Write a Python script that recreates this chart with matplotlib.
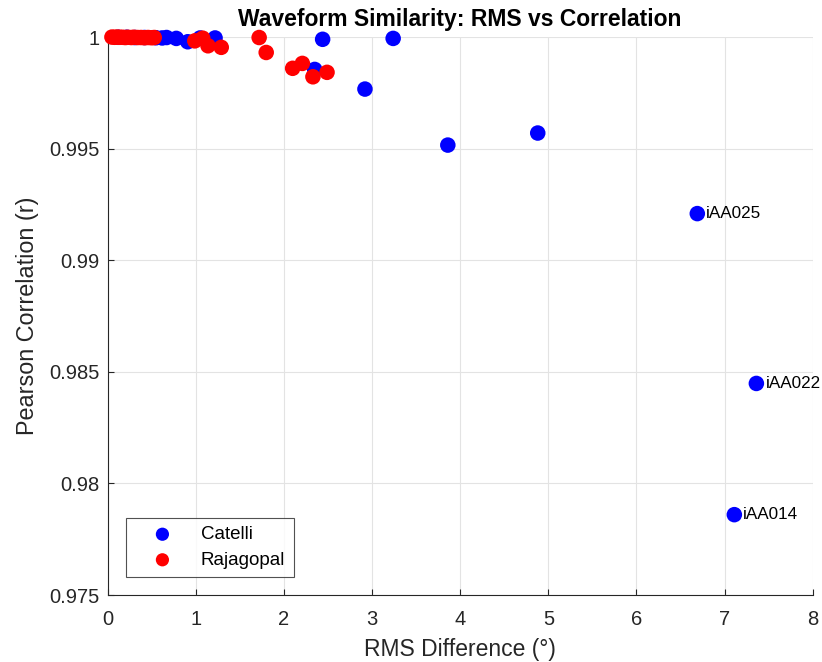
import matplotlib.pyplot as plt
from matplotlib.ticker import FuncFormatter

plt.rcParams['font.family'] = ['Liberation Sans', 'DejaVu Sans']

# Catelli model: RMS difference (deg) and Pearson r
catelli_rms = [0.12, 0.22, 0.31, 0.42, 0.55, 0.62, 0.67, 0.78, 0.91, 1.05, 1.22,
               2.44, 3.24, 2.35, 2.92, 3.86, 4.88, 6.69, 7.36, 7.11]
catelli_r = [0.99999, 0.99999, 0.99998, 0.99998, 0.99997, 0.99996, 0.99998, 0.99994,
             0.99979, 0.99996, 0.99996, 0.9999, 0.99994, 0.99855, 0.99767, 0.99516,
             0.9957, 0.99209, 0.98448, 0.9786]

# Rajagopal model
rajagopal_rms = [0.05, 0.08, 0.11, 0.14, 0.17, 0.2, 0.23, 0.27, 0.3, 0.34, 0.38,
                 0.42, 0.46, 0.5, 0.53, 0.99, 1.08, 1.14, 1.29, 1.72, 1.8, 2.1,
                 2.21, 2.33, 2.49]
rajagopal_r = [1.0, 0.99999, 1.0, 0.99999, 0.99999, 0.99998, 0.99999, 0.99998,
               0.99999, 0.99998, 0.99998, 0.99997, 0.99998, 0.99997, 0.99998,
               0.99983, 0.99995, 0.99961, 0.99954, 0.99998, 0.99931, 0.9986,
               0.99882, 0.99822, 0.99842]

# labelled outliers
outlier_names = ['iAA025', 'iAA022', 'iAA014']
outlier_rms = [6.69, 7.36, 7.11]
outlier_r = [0.99209, 0.98448, 0.9786]

fig = plt.figure(figsize=(8.22, 6.62), dpi=100)
ax = fig.add_axes([0.1308, 0.1012, 0.858, 0.8428])

ax.scatter(catelli_rms, catelli_r, s=125, color='#0000ff', edgecolors='none',
           label='Catelli', clip_on=False, zorder=3)
ax.scatter(rajagopal_rms, rajagopal_r, s=125, color='#ff0000', edgecolors='none',
           label='Rajagopal', clip_on=False, zorder=4)

for name, xv, yv in zip(outlier_names, outlier_rms, outlier_r):
    ax.annotate(name, (xv, yv), xytext=(6.5, 0), textcoords='offset points',
                fontsize=12.3, va='center', ha='left', color='black')

ax.set_xlim(0, 8)
ax.set_ylim(0.975, 1.0)
ax.set_xticks(range(0, 9))
ax.set_yticks([0.975, 0.98, 0.985, 0.99, 0.995, 1.0])
ax.yaxis.set_major_formatter(FuncFormatter(lambda v, p: f'{v:g}'))

ax.grid(True, color='#e3e3e3', linewidth=0.8)
ax.set_axisbelow(True)
for side in ['top', 'right']:
    ax.spines[side].set_visible(False)
for side in ['left', 'bottom']:
    ax.spines[side].set_color('#262626')
    ax.spines[side].set_linewidth(0.8)
ax.tick_params(direction='in', length=4, colors='#262626', labelsize=14.5)
ax.tick_params(axis='x', pad=11)
ax.tick_params(axis='y', pad=6)

ax.set_xlabel('RMS Difference (°)', fontsize=16.5, color='#262626', labelpad=6)
ax.set_ylabel('Pearson Correlation (r)', fontsize=16.8, color='#262626', labelpad=7)
ax.set_title('Waveform Similarity: RMS vs Correlation', fontsize=16.5,
             fontweight='bold', pad=8)

leg = ax.legend(loc='lower left', bbox_to_anchor=(0.026, 0.032), fontsize=13.5,
                frameon=True, fancybox=False, edgecolor='#262626',
                handlelength=3.0, handletextpad=0.55, borderpad=0.45,
                labelspacing=0.45, borderaxespad=0, markerscale=0.85)
leg.get_frame().set_linewidth(0.8)

fig.savefig('out.png', dpi=100)
